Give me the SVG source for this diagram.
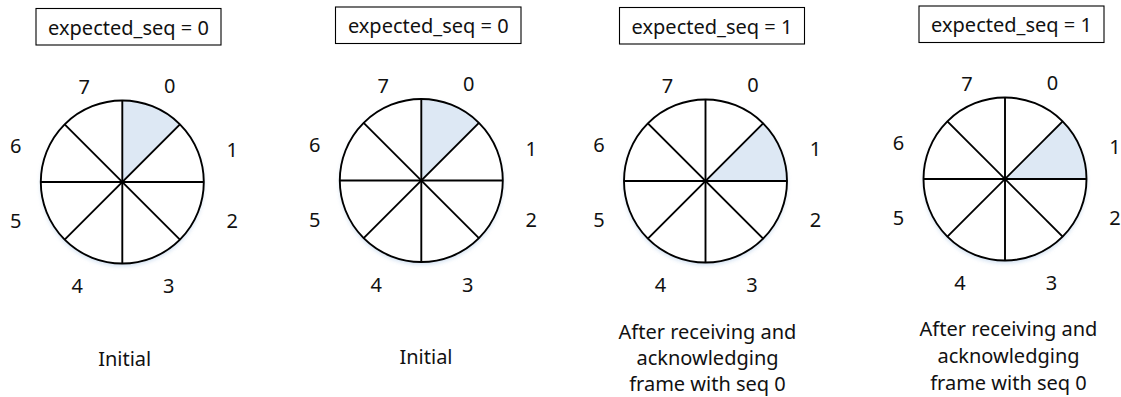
<svg xmlns="http://www.w3.org/2000/svg" xmlns:xlink="http://www.w3.org/1999/xlink" width="1121" height="397" viewBox="0 0 1121 397">
  <style>
    text { font-family: "Noto Sans", "Open Sans", "DejaVu Sans", sans-serif; font-size: 20px; fill: #111; text-anchor: middle; }
    .box { fill: #fff; stroke: #000; stroke-width: 1.1; }
    .rim { fill: none; stroke: #000; stroke-width: 1.9; }
    .spoke { stroke: #000; stroke-width: 1.9; stroke-linecap: butt; }
    .face { fill: #fff; }
    .slot { fill: #dde8f4; }
    .glow { fill: #b9d0ea; opacity: 0.7; }
  </style>
  <defs>
    <filter id="soft" x="-20%" y="-20%" width="140%" height="140%">
      <feGaussianBlur stdDeviation="2"/>
    </filter>
    <!-- soft shadow under the wheel -->
    <circle id="shade" cx="0" cy="2.5" r="81.5" class="glow" filter="url(#soft)"/>
    <!-- rim and eight spokes of the sequence-number wheel -->
    <g id="wheel">
      <circle cx="0" cy="0" r="81.5" class="rim"/>
      <line class="spoke" x1="0" y1="-81.5" x2="0" y2="81.5"/>
      <line class="spoke" x1="-81.5" y1="0" x2="81.5" y2="0"/>
      <line class="spoke" x1="-57.63" y1="-57.63" x2="57.63" y2="57.63"/>
      <line class="spoke" x1="-57.63" y1="57.63" x2="57.63" y2="-57.63"/>
    </g>
    <path id="slot0" class="slot" d="M0,0 L0,-81.5 A81.5,81.5 0 0 1 57.63,-57.63 Z"/>
    <path id="slot1" class="slot" d="M0,0 L57.63,-57.63 A81.5,81.5 0 0 1 81.5,0 Z"/>
    <!-- sequence numbers around the wheel -->
    <g id="numbers">
      <text x="47.5" y="-89.5">0</text>
      <text x="110" y="-25">1</text>
      <text x="110" y="46">2</text>
      <text x="46.5" y="111">3</text>
      <text x="-45" y="111">4</text>
      <text x="-106.5" y="46">5</text>
      <text x="-106.5" y="-29">6</text>
      <text x="-38" y="-88">7</text>
    </g>
  </defs>

  <rect width="1121" height="397" fill="#fff"/>

  <!-- state 1: initial -->
  <g id="state1">
    <rect class="box" x="36" y="8.5" width="185" height="36.5"/>
    <text x="128.5" y="35">expected_seq = 0</text>
    <g transform="translate(122.3,182)">
      <use xlink:href="#shade"/>
      <circle class="face" r="81.5"/>
      <use xlink:href="#slot0"/>
      <use xlink:href="#wheel"/>
      <use xlink:href="#numbers"/>
    </g>
    <text x="124.7" y="366">Initial</text>
  </g>

  <!-- state 2: initial -->
  <g id="state2">
    <rect class="box" x="335.5" y="7" width="185.5" height="36.5"/>
    <text x="428.3" y="33">expected_seq = 0</text>
    <g transform="translate(421.3,180.5)">
      <use xlink:href="#shade"/>
      <circle class="face" r="81.5"/>
      <use xlink:href="#slot0"/>
      <use xlink:href="#wheel"/>
      <use xlink:href="#numbers"/>
    </g>
    <text x="426" y="364">Initial</text>
  </g>

  <!-- state 3: after frame 0 -->
  <g id="state3">
    <rect class="box" x="619.5" y="7.5" width="185" height="36.5"/>
    <text x="712" y="34">expected_seq = 1</text>
    <g transform="translate(705.5,181)">
      <use xlink:href="#shade"/>
      <circle class="face" r="81.5"/>
      <use xlink:href="#slot1"/>
      <use xlink:href="#wheel"/>
      <use xlink:href="#numbers"/>
    </g>
    <text x="707.5" y="338.5">After receiving and</text>
    <text x="707.5" y="365">acknowledging</text>
    <text x="707.5" y="391">frame with seq 0</text>
  </g>

  <!-- state 4: after frame 0 -->
  <g id="state4">
    <rect class="box" x="919" y="6" width="185" height="36.5"/>
    <text x="1011.5" y="32">expected_seq = 1</text>
    <g transform="translate(1005,179)">
      <use xlink:href="#shade"/>
      <circle class="face" r="81.5"/>
      <use xlink:href="#slot1"/>
      <use xlink:href="#wheel"/>
      <use xlink:href="#numbers"/>
    </g>
    <text x="1008.5" y="336">After receiving and</text>
    <text x="1008.5" y="363">acknowledging</text>
    <text x="1008.5" y="389.5">frame with seq 0</text>
  </g>
</svg>
